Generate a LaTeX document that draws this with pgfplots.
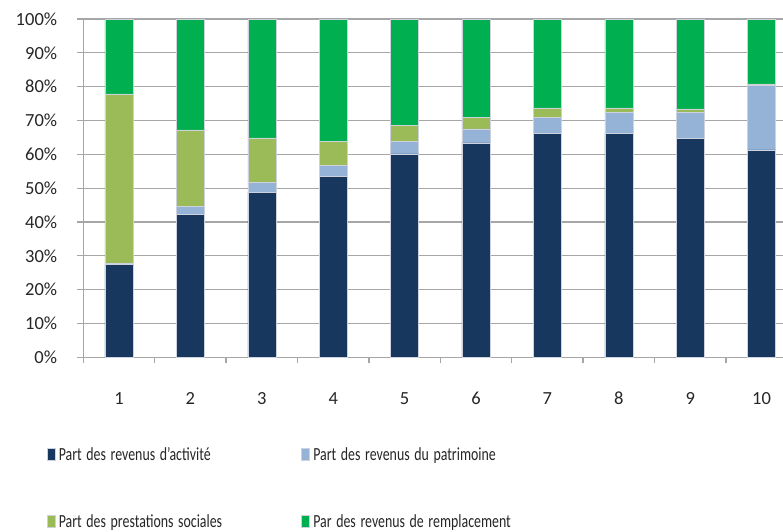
\documentclass[border=0pt]{standalone}
\usepackage{pgfplots}
\pgfplotsset{compat=1.18}
\usepackage{graphicx}
\usepackage{fontspec}
\setmainfont{Carlito}
\definecolor{cDark}{HTML}{17375E}
\definecolor{cLight}{HTML}{95B3D7}
\definecolor{cOlive}{HTML}{9BBB59}
\definecolor{cGreen}{HTML}{00B050}
\definecolor{cGrid}{HTML}{A6A6A6}
\definecolor{cText}{HTML}{262626}
\newcommand{\leg}[1]{\scalebox{0.75}[1]{#1}}
\begin{document}
\begin{tikzpicture}
\useasboundingbox (0pt,0pt) rectangle (783pt,-531pt);
\begin{axis}[
  at={(83.3pt,-357.3pt)}, anchor=south west,
  scale only axis, width=699.7pt, height=338.3pt,
  ybar stacked, bar width=28pt,
  xmin=0.5, xmax=10.30, ymin=0, ymax=100,
  axis lines=left, axis line style={cGrid, line width=1.3pt, -},
  xtick={1,2,3,4,5,6,7,8,9,10},
  minor xtick={0.5,1.5,2.5,3.5,4.5,5.5,6.5,7.5,8.5,9.5},
  major x tick style={draw=none},
  minor x tick style={cGrid, line width=1.3pt},
  ytick={0,10,...,100},
  yticklabel={\pgfmathprintnumber{\tick}\%},
  y tick style={cGrid, line width=1.3pt},
  tick align=outside, major tick length=6pt, minor tick length=6pt,
  ymajorgrids, grid style={cGrid, line width=1.3pt},
  /pgf/number format/assume math mode=true,
  tick label style={font=\fontsize{18.5}{20}\selectfont, text=cText},
  yticklabel style={anchor=east, inner sep=0pt, xshift=-20pt},
  xticklabel style={anchor=center, inner sep=0pt, yshift=-35.4pt},
  legend columns=2,
  legend cell align=left,
  legend style={at={(-0.0519,-0.269)}, anchor=north west, draw=none, fill=none,
    inner sep=0pt, outer sep=0pt, column sep=3.3pt, row sep=54.5pt,
    nodes={inner sep=0pt, text height=12pt, text depth=0pt, text width=239.4pt, align=left,
      font=\fontsize{18.5}{20}\selectfont, text=cText}},
  legend image code/.code={\fill[#1] (0pt,-6pt) rectangle (8pt,6pt);},
  every axis plot/.append style={draw={rgb,255:red,205;green,210;blue,220}, line width=0.5pt},
]
\addplot[fill=cDark] coordinates {(1,27.4) (2,42.2) (3,48.8) (4,53.4) (5,60.1) (6,63.4) (7,66.2) (8,66.2) (9,64.8) (10,61.3)};
\addplot[fill=cLight] coordinates {(1,0.4) (2,2.4) (3,2.9) (4,3.4) (5,3.7) (6,4.1) (7,4.7) (8,6.1) (9,7.5) (10,19.1)};
\addplot[fill=cOlive] coordinates {(1,50.1) (2,22.6) (3,13.2) (4,7.1) (5,4.8) (6,3.4) (7,2.8) (8,1.4) (9,1.1) (10,0.4)};
\addplot[fill=cGreen] coordinates {(1,22.1) (2,32.8) (3,35.1) (4,36.1) (5,31.4) (6,29.1) (7,26.3) (8,26.3) (9,26.6) (10,19.2)};
\legend{\leg{Part des revenus d'activité},\leg{Part des revenus du patrimoine},\leg{Part des prestations sociales},\leg{Par des revenus de remplacement}}
\end{axis}
\end{tikzpicture}
\end{document}
